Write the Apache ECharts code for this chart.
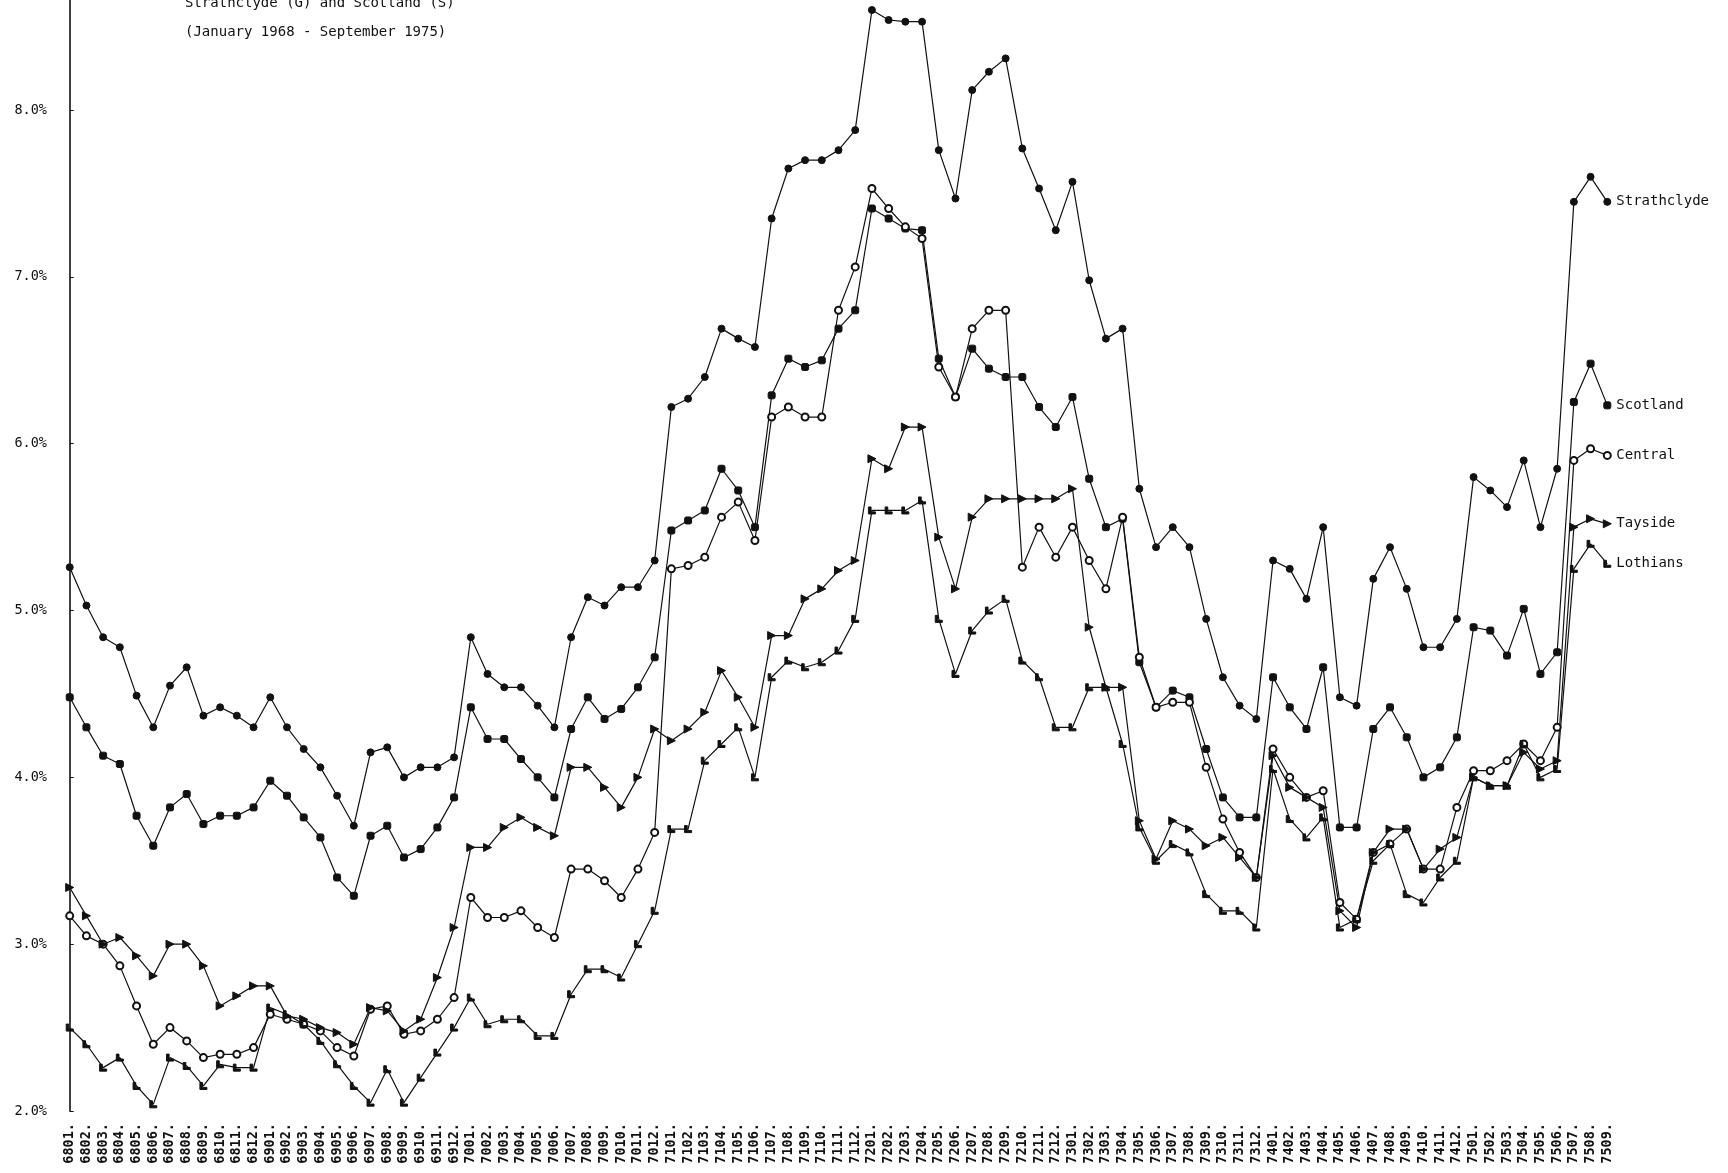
<!DOCTYPE html>
<html><head><meta charset="utf-8">
<script src="https://cdn.jsdelivr.net/npm/echarts@6/dist/echarts.min.js"></script>
<style>html,body{margin:0;padding:0;background:#fff}#c{width:1728px;height:1173px}</style>
</head><body><div id="c"></div>
<script>
const months = ['6801','6802','6803','6804','6805','6806','6807','6808','6809','6810','6811','6812',
'6901','6902','6903','6904','6905','6906','6907','6908','6909','6910','6911','6912',
'7001','7002','7003','7004','7005','7006','7007','7008','7009','7010','7011','7012',
'7101','7102','7103','7104','7105','7106','7107','7108','7109','7110','7111','7112',
'7201','7202','7203','7204','7205','7206','7207','7208','7209','7210','7211','7212',
'7301','7302','7303','7304','7305','7306','7307','7308','7309','7310','7311','7312',
'7401','7402','7403','7404','7405','7406','7407','7408','7409','7410','7411','7412',
'7501','7502','7503','7504','7505','7506','7507','7508','7509'];

const strathclyde = [5.26,5.03,4.84,4.78,4.49,4.30,4.55,4.66,4.37,4.42,4.37,4.30,
4.48,4.30,4.17,4.06,3.89,3.71,4.15,4.18,4.00,4.06,4.06,4.12,
4.84,4.62,4.54,4.54,4.43,4.30,4.84,5.08,5.03,5.14,5.14,5.30,
6.22,6.27,6.40,6.69,6.63,6.58,7.35,7.65,7.70,7.70,7.76,7.88,
8.60,8.54,8.53,8.53,7.76,7.47,8.12,8.23,8.31,7.77,7.53,7.28,
7.57,6.98,6.63,6.69,5.73,5.38,5.50,5.38,4.95,4.60,4.43,4.35,
5.30,5.25,5.07,5.50,4.48,4.43,5.19,5.38,5.13,4.78,4.78,4.95,
5.80,5.72,5.62,5.90,5.50,5.85,7.45,7.60,7.45];

const scotland = [4.48,4.30,4.13,4.08,3.77,3.59,3.82,3.90,3.72,3.77,3.77,3.82,
3.98,3.89,3.76,3.64,3.40,3.29,3.65,3.71,3.52,3.57,3.70,3.88,
4.42,4.23,4.23,4.11,4.00,3.88,4.29,4.48,4.35,4.41,4.54,4.72,
5.48,5.54,5.60,5.85,5.72,5.50,6.29,6.51,6.46,6.50,6.69,6.80,
7.41,7.35,7.29,7.28,6.51,6.28,6.57,6.45,6.40,6.40,6.22,6.10,
6.28,5.79,5.50,5.55,4.69,4.42,4.52,4.48,4.17,3.88,3.76,3.76,
4.60,4.42,4.29,4.66,3.70,3.70,4.29,4.42,4.24,4.00,4.06,4.24,
4.90,4.88,4.73,5.01,4.62,4.75,6.25,6.48,6.23];

const central = [3.17,3.05,3.00,2.87,2.63,2.40,2.50,2.42,2.32,2.34,2.34,2.38,
2.58,2.55,2.52,2.48,2.38,2.33,2.61,2.63,2.46,2.48,2.55,2.68,
3.28,3.16,3.16,3.20,3.10,3.04,3.45,3.45,3.38,3.28,3.45,3.67,
5.25,5.27,5.32,5.56,5.65,5.42,6.16,6.22,6.16,6.16,6.80,7.06,
7.53,7.41,7.30,7.23,6.46,6.28,6.69,6.80,6.80,5.26,5.50,5.32,
5.50,5.30,5.13,5.56,4.72,4.42,4.45,4.45,4.06,3.75,3.55,3.40,
4.17,4.00,3.88,3.92,3.25,3.15,3.55,3.60,3.69,3.45,3.45,3.82,
4.04,4.04,4.10,4.20,4.10,4.30,5.90,5.97,5.93];

const tayside = [3.34,3.17,3.00,3.04,2.93,2.81,3.00,3.00,2.87,2.63,2.69,2.75,
2.75,2.57,2.55,2.50,2.47,2.40,2.62,2.60,2.48,2.55,2.80,3.10,
3.58,3.58,3.70,3.76,3.70,3.65,4.06,4.06,3.94,3.82,4.00,4.29,
4.22,4.29,4.39,4.64,4.48,4.30,4.85,4.85,5.07,5.13,5.24,5.30,
5.91,5.85,6.10,6.10,5.44,5.13,5.56,5.67,5.67,5.67,5.67,5.67,
5.73,4.90,4.54,4.54,3.74,3.51,3.74,3.69,3.59,3.64,3.52,3.40,
4.13,3.94,3.88,3.82,3.20,3.10,3.55,3.69,3.69,3.45,3.57,3.64,
4.00,3.95,3.95,4.15,4.05,4.10,5.50,5.55,5.52];

const lothians = [2.50,2.40,2.26,2.32,2.15,2.04,2.32,2.27,2.15,2.28,2.26,2.26,
2.62,2.58,2.52,2.42,2.28,2.15,2.05,2.25,2.05,2.20,2.35,2.50,
2.68,2.52,2.55,2.55,2.45,2.45,2.70,2.85,2.85,2.80,3.00,3.20,
3.69,3.69,4.10,4.20,4.30,4.00,4.60,4.70,4.66,4.69,4.76,4.95,
5.60,5.60,5.60,5.66,4.95,4.62,4.88,5.00,5.07,4.70,4.60,4.30,
4.30,4.54,4.54,4.20,3.70,3.50,3.60,3.55,3.30,3.20,3.20,3.10,
4.05,3.75,3.64,3.76,3.10,3.15,3.50,3.60,3.30,3.25,3.40,3.50,
4.00,3.95,3.95,4.20,4.00,4.05,5.25,5.40,5.28];

const titleLines = ['Strathclyde (G) and Scotland (S)', '(January 1968 - September 1975)'];

const FONT = 'DejaVu Sans Mono';
const INK = '#111';

function mk(name, vals, symbol, size, extra) {
  return Object.assign({
    name: name,
    type: 'line',
    data: vals.map((v, i) => [i, v]),
    symbol: symbol,
    symbolSize: size,
    showAllSymbol: true,
    lineStyle: { color: INK, width: 1.2 },
    itemStyle: { color: INK, borderColor: INK },
    animation: false,
    z: 3,
    endLabel: { show: true, formatter: '{a}', color: INK, fontFamily: FONT, fontSize: 14, distance: 9 }
  }, extra || {});
}

const chart = echarts.init(document.getElementById('c'), null, { renderer: 'canvas' });
chart.setOption({
  backgroundColor: '#fff',
  animation: false,
  grid: { left: 53, right: 104, top: 0, bottom: 62, containLabel: false },
  xAxis: {
    type: 'value', min: -1, max: 93, interval: 1,
    axisLine: { show: false }, axisTick: { show: false }, splitLine: { show: false },
    axisLabel: {
      rotate: 90, margin: 12, fontFamily: FONT, fontSize: 13.5, color: INK, fontWeight: 'bold',
      formatter: v => (months[v] ? months[v] + '.' : '')
    }
  },
  yAxis: {
    type: 'value', min: 2, max: 8.66, interval: 1,
    axisLine: { show: true, lineStyle: { color: INK, width: 1.6 } },
    axisTick: { show: true, inside: true, length: 4, lineStyle: { color: INK } },
    splitLine: { show: false },
    axisLabel: {
      showMaxLabel: false, margin: 6, fontFamily: FONT, fontSize: 13.5, color: INK,
      formatter: v => (Math.abs(v - Math.round(v)) < 1e-6 ? v.toFixed(1) + '%' : '')
    }
  },
  graphic: [
    { type: 'text', left: 185, top: -4, style: { text: titleLines[0], font: '14px "DejaVu Sans Mono"', fill: INK } },
    { type: 'text', left: 185, top: 25, style: { text: titleLines[1], font: '14px "DejaVu Sans Mono"', fill: INK } }
  ],
  series: [
    mk('Strathclyde', strathclyde, 'circle', 7),
    mk('Scotland', scotland, 'roundRect', 7),
    mk('Central', central, 'emptyCircle', 7, { itemStyle: { color: INK, borderColor: INK, borderWidth: 1.8 } }),
    mk('Tayside', tayside, 'triangle', 8, { symbolRotate: -90 }),
    mk('Lothians', lothians, 'path://M0,0 L3,0 L3,7 L8,7 L8,10 L0,10 Z', 7)
  ]
});
</script></body></html>
